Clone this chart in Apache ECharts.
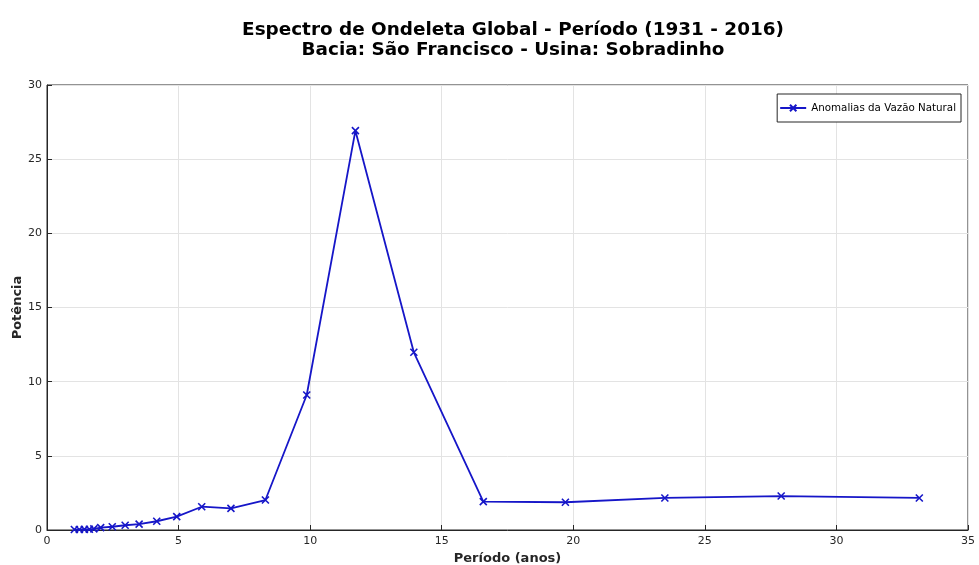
<!DOCTYPE html>
<html>
<head>
<meta charset="utf-8">
<script src="https://cdn.jsdelivr.net/npm/echarts@6/dist/echarts.min.js"></script>
<style>
  html, body { margin: 0; padding: 0; background: #fff; }
  #chart { width: 979px; height: 565px; }
</style>
</head>
<body>
<div id="chart"></div>
<script>
// Global wavelet spectrum: period (years) vs. power
const periods = [1.04, 1.23, 1.42, 1.61, 1.78, 2.04, 2.48, 2.97, 3.50, 4.17, 4.93,
                 5.88, 6.99, 8.30, 9.87, 11.72, 13.94, 16.58, 19.70, 23.48, 27.90, 33.15];
const power = [0.03, 0.03, 0.04, 0.05, 0.08, 0.16, 0.22, 0.32, 0.40, 0.59, 0.90,
               1.57, 1.46, 2.02, 9.10, 26.92, 11.98, 1.91, 1.87, 2.16, 2.29, 2.16];
const xTicks = [0, 5, 10, 15, 20, 25, 30, 35];
const yTicks = [0, 5, 10, 15, 20, 25, 30];
const seriesName = 'Anomalias da Vazão Natural';

const ink = '#262626';
const lineBlue = '#1616c8';
const font = 'DejaVu Sans';

const chart = echarts.init(document.getElementById('chart'), null, { renderer: 'canvas' });

chart.setOption({
  backgroundColor: '#ffffff',
  animation: false,
  title: {
    text: 'Espectro de Ondeleta Global - Período (1931 - 2016)\nBacia: São Francisco - Usina: Sobradinho',
    left: 508,
    textAlign: 'center',
    top: 15,
    textStyle: { fontFamily: font, fontSize: 18.4, fontWeight: 'bold', color: '#000', lineHeight: 20 }
  },
  legend: {
    right: 18,
    top: 94,
    orient: 'horizontal',
    backgroundColor: '#fff',
    borderColor: ink,
    borderWidth: 1,
    borderRadius: 0,
    padding: [9, 5, 9, 2],
    itemWidth: 26,
    itemHeight: 8,
    itemGap: 4,
    textStyle: { fontFamily: font, fontSize: 10.3, color: '#000' },
    data: [seriesName]
  },
  grid: {
    left: 47, right: 11, top: 85, bottom: 35,
    outerBoundsMode: 'none',
    show: true, borderColor: ink, borderWidth: 1
  },
  xAxis: {
    type: 'value',
    min: xTicks[0], max: xTicks[xTicks.length - 1], interval: 5,
    name: 'Período (anos)',
    nameLocation: 'middle',
    nameGap: 22,
    nameTextStyle: { fontFamily: font, fontSize: 13, fontWeight: 'bold', color: ink },
    axisLine: { show: true, lineStyle: { color: ink, width: 1 } },
    axisTick: { show: true, inside: true, length: 5, lineStyle: { color: ink } },
    axisLabel: { fontFamily: font, fontSize: 11, color: ink, margin: 6 },
    splitLine: { show: true, lineStyle: { color: '#e3e3e3', width: 1 } }
  },
  yAxis: {
    type: 'value',
    min: yTicks[0], max: yTicks[yTicks.length - 1], interval: 5,
    name: 'Potência',
    nameLocation: 'middle',
    nameMoveOverlap: false,
    nameGap: 23,
    nameTextStyle: { fontFamily: font, fontSize: 13, fontWeight: 'bold', color: ink },
    axisLine: { show: true, lineStyle: { color: ink, width: 1 } },
    axisTick: { show: true, inside: true, length: 5, lineStyle: { color: ink } },
    axisLabel: { fontFamily: font, fontSize: 11, color: ink, margin: 5 },
    splitLine: { show: true, lineStyle: { color: '#e3e3e3', width: 1 } }
  },
  series: [{
    name: seriesName,
    type: 'line',
    data: periods.map((p, i) => [p, power[i]]),
    symbol: 'path://M0,0L10,10M10,0L0,10',
    symbolSize: 7,
    showAllSymbol: true,
    lineStyle: { color: lineBlue, width: 1.8 },
    itemStyle: { color: 'rgba(0,0,0,0)', borderColor: lineBlue, borderWidth: 1.6 }
  }]
});
</script>
</body>
</html>
